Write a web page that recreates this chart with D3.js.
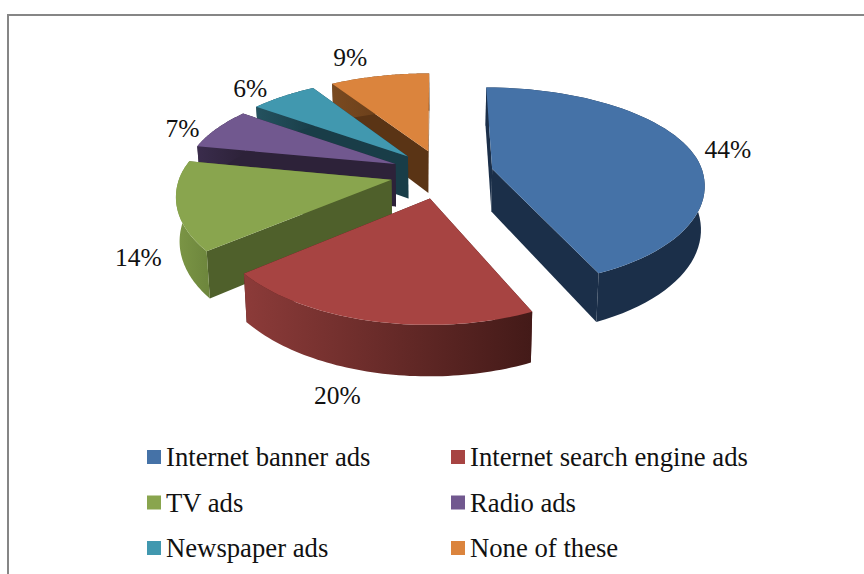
<!DOCTYPE html>
<html>
<head>
<meta charset="utf-8">
<script src="https://d3js.org/d3.v7.min.js"></script>
<style>
html,body{margin:0;padding:0;background:#fff;}
svg{display:block;}
text{font-family:"Liberation Serif","Times New Roman",serif;fill:#111;}
</style>
</head>
<body>
<div id="chart"></div>
<script>
const categories = ["Internet banner ads","Internet search engine ads","TV ads","Radio ads","Newspaper ads","None of these"];
const shares = [44,20,14,7,6,9];
const topColors = ["#4572A7","#A74442","#89A54E","#71588F","#4198AF","#DB843D"];
const wallColors = ["#1B2F49","#4A1C1A","#4F602B","#2D2239","#193D48","#5A3415"];
const rimLight = ["#1B2F49","#8C3B39","#7C9646","#3A2C4C","#24525F","#7A4A20"];
const rimDark = ["#1B2F49","#431A18","#6E873D","#2D2239","#193D48","#5A3415"];

const W = 864, H = 574;
const svg = d3.select("#chart").append("svg").attr("width",W).attr("height",H);

// Plane-to-screen projection: disc lines recede toward a vanishing point above the chart
const vanish = {x:437, y:-590};
const disc = {x:442, y:174, scale:211, recede:0.13, explode:0.245,
              farReach:0.93, nearReach:1.03, depth:43, taper:0.014};
const deg = Math.PI/180;
// Small angular correction for the lens distortion of the tilted disc
const warp = d3.scaleLinear()
  .domain([0,158.4,230.4,306,327.6,360].map(d=>d*deg))
  .range([0,155.5,231,307,328.6,360].map(d=>d*deg));

function project(px, far){
  const w = 1 + disc.recede*far;
  return {
    x: vanish.x + (disc.x - vanish.x + disc.scale*px)/w,
    y: vanish.y + (disc.y - vanish.y)/w,
    w
  };
}
function onDisc(angle, r, midAngle){
  const a = warp(angle), mid = warp(midAngle);
  const c = Math.cos(a);
  const px = disc.explode*Math.sin(mid) + r*Math.sin(a);
  const far = disc.explode*Math.cos(mid) + r*c*(c>0 ? disc.farReach : disc.nearReach);
  return project(px, far);
}
function lower(p){
  return {x: p.x + (vanish.x - p.x)*disc.taper, y: p.y + disc.depth/p.w};
}
const line = d3.line().x(d=>d.x).y(d=>d.y);
const closed = pts => line(pts) + "Z";

const pie = d3.pie().sort(null).value(d=>d).startAngle(0).endAngle(2*Math.PI);
const arcs = pie(shares);

const defs = svg.append("defs");

// Paint order runs from the far side of the disc toward the viewer
const paintOrder = [5,4,3,2,0,1];

paintOrder.forEach(i=>{
  const s = arcs[i];
  const mid = (s.startAngle + s.endAngle)/2;
  const steps = d3.range(0,61).map(k=>s.startAngle + (s.endAngle - s.startAngle)*k/60);
  const apex = onDisc(0,0,mid);
  const rimTop = steps.map(a=>onDisc(a,1,mid));
  const rimBottom = rimTop.map(lower);
  const apexLow = lower(apex);
  const g = svg.append("g").attr("class","slice");

  const startWall = [apex, rimTop[0], rimBottom[0], apexLow];
  const endWall = [apex, rimTop[60], rimBottom[60], apexLow];
  const rimWall = rimTop.concat(rimBottom.slice().reverse());

  const gid = "rim"+i;
  const xs = d3.extent(rimTop, d=>d.x);
  // The lit end of the curved wall sits on its left
  defs.append("linearGradient").attr("id",gid)
    .attr("gradientUnits","userSpaceOnUse")
    .attr("x1",xs[0]).attr("x2",xs[1]).attr("y1",0).attr("y2",0)
    .selectAll("stop").data([[0,rimLight[i]],[1,rimDark[i]]]).join("stop")
    .attr("offset",d=>d[0]).attr("stop-color",d=>d[1]);

  const walls = [startWall,endWall]
    .map(pts=>({pts, fill:wallColors[i], y:d3.mean(pts,d=>d.y)}))
    .sort((a,b)=>a.y-b.y);
  walls.forEach(f=>g.append("path").attr("d",closed(f.pts)).attr("fill",f.fill));
  g.append("path").attr("d",closed(rimWall)).attr("fill",`url(#${gid})`);
  g.append("path").attr("d",closed([apex].concat(rimTop))).attr("fill",topColors[i]);
});

// Percentage labels placed outside each slice along its middle angle
const labelReach = [1.22,1.14,1.22,1.16,1.2,1.12];
const labelShiftX = [-5,-24,11,-7,-10,-24];
const labelShiftY = [6,57,49,8,6,-8];
arcs.forEach((s,i)=>{
  const mid = (s.startAngle + s.endAngle)/2;
  const p = onDisc(mid,labelReach[i],mid);
  svg.append("text").attr("x",p.x + labelShiftX[i]).attr("y",p.y + labelShiftY[i])
    .attr("text-anchor","middle").attr("dominant-baseline","middle")
    .attr("font-size",25.5).text(d3.format("d")(shares[i])+"%");
});

// Legend: two columns, three rows
const legendX = d3.scalePoint().domain([0,1]).range([147,451]);
const legendY = d3.scalePoint().domain([0,1,2]).range([457,548]);
const legend = svg.append("g").selectAll("g").data(categories).join("g")
  .attr("transform",(d,i)=>`translate(${legendX(i%2)},${legendY(Math.floor(i/2))})`);
legend.append("rect").attr("x",0).attr("y",-7).attr("width",14).attr("height",14).attr("fill",(d,i)=>topColors[i]);
legend.append("text").attr("x",19).attr("y",9).attr("font-size",26.7).text(d=>d);

// Chart frame
svg.append("path").attr("d","M8,574V15H864").attr("fill","none").attr("stroke","#868686").attr("stroke-width",2);
</script>
</body>
</html>
